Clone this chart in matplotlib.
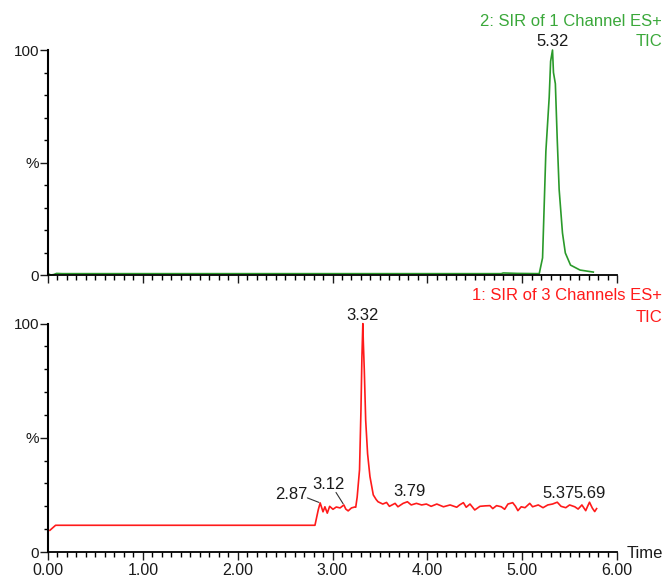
import matplotlib
matplotlib.use("Agg")
from matplotlib import pyplot as plt
from matplotlib.ticker import MultipleLocator, FixedLocator, FixedFormatter

plt.rcParams['font.family'] = ['Liberation Sans', 'DejaVu Sans']

# channel 2: SIR of 1 channel (green)
green_t = [0.00, 0.03, 0.06, 0.09, 0.15, 1.00, 2.00, 3.00, 4.00, 4.78, 4.80, 4.95,
           5.18, 5.215, 5.25, 5.285, 5.30, 5.32, 5.33, 5.35, 5.37, 5.39, 5.425,
           5.455, 5.51, 5.61, 5.75]
green_i = [0.6, 0.0, 0.2, 0.7, 0.6, 0.6, 0.6, 0.6, 0.6, 0.6, 0.9, 0.7,
           0.6, 7.6, 55, 79, 95, 100, 90, 85, 60, 38, 18.7,
           9.8, 4.4, 2.2, 1.3]

# channel 1: SIR of 3 channels (red)
red_t = [0.02, 0.08, 2.815, 2.85, 2.87, 2.90, 2.92, 2.945, 2.97, 3.005, 3.04, 3.08,
         3.12, 3.14, 3.165, 3.20, 3.235, 3.245, 3.26, 3.285, 3.30, 3.31, 3.32,
         3.325, 3.335, 3.35, 3.37, 3.395, 3.43, 3.46, 3.48, 3.53, 3.57, 3.60,
         3.66, 3.69, 3.745, 3.79, 3.83, 3.885, 3.94, 3.99, 4.04, 4.10, 4.17,
         4.24, 4.31, 4.34, 4.38, 4.41, 4.45, 4.50, 4.555, 4.61, 4.66, 4.69,
         4.73, 4.78, 4.815, 4.85, 4.90, 4.93, 4.955, 4.99, 5.03, 5.08, 5.11,
         5.17, 5.22, 5.27, 5.32, 5.37, 5.41, 5.46, 5.50, 5.555, 5.59, 5.63,
         5.67, 5.69, 5.71, 5.74, 5.765, 5.785]
red_i = [9.5, 11.7, 11.7, 18.5, 21.5, 17.6, 19.8, 17.0, 20.0, 18.7, 19.7, 19.3,
         20.6, 18.8, 18.0, 19.3, 19.7, 19.6, 24, 36, 62, 85, 100,
         92, 80, 57.6, 43, 33, 25, 23, 22, 21, 21.7, 20.0,
         21.3, 19.8, 21.3, 22.0, 20.6, 21.3, 20.6, 21.0, 20.0, 21.0, 19.8,
         20.6, 19.6, 20.6, 21.6, 19.6, 21.0, 18.4, 20.0, 20.2, 20.3, 19.0,
         20.3, 19.8, 18.7, 21.0, 21.6, 20.0, 18.1, 19.8, 19.4, 21.3, 19.8,
         20.6, 19.4, 20.6, 21.0, 21.8, 20.0, 19.4, 20.6, 19.8, 18.8, 20.6,
         18.1, 20.0, 21.8, 19.2, 17.7, 19.0]

green_peaks = [5.32]
red_peaks = [3.32]
# smaller labelled peaks: time, intensity, label offset (px), leader start on text box
red_minor = [(2.87, 21.5, -29, 8, (1.0, 0.3)), (3.12, 20.6, -15, 20, (0.72, 0.0)),
             (3.79, 22.0, 2, 10, None), (5.37, 21.8, 1, 9, None),
             (5.69, 21.8, 2, 9, None)]

GREEN = '#2a9a2a'
GREEN_TXT = '#3aa83a'
RED = '#ff1a1a'
TXT = '#1a1a1a'

fig = plt.figure(figsize=(6.67, 5.78), dpi=100)
ax1 = fig.add_axes([48 / 667, 1 - 275 / 578, 569 / 667, 225 / 578])
ax2 = fig.add_axes([48 / 667, 1 - 552 / 578, 569 / 667, 228.4 / 578])


def style(ax, labels):
    for s in ['top', 'right']:
        ax.spines[s].set_visible(False)
    ax.spines['left'].set_linewidth(1.5)
    ax.spines['bottom'].set_linewidth(1.3)
    ax.set_xlim(0, 6)
    ax.set_ylim(0, 100)
    ax.yaxis.set_major_locator(FixedLocator([0, 50, 100]))
    ax.yaxis.set_major_formatter(FixedFormatter(['0', '%', '100']))
    ax.yaxis.set_minor_locator(MultipleLocator(10))
    ax.xaxis.set_major_locator(MultipleLocator(1))
    ax.xaxis.set_minor_locator(MultipleLocator(0.1))
    ax.tick_params(axis='y', which='major', length=5.5, width=1, pad=1,
                   labelsize=11, colors=TXT)
    ax.tick_params(axis='y', which='minor', length=3, width=1)
    ax.tick_params(axis='x', which='major', length=6, width=1, pad=2,
                   labelsize=11.5, colors=TXT, labelbottom=labels)
    ax.tick_params(axis='x', which='minor', length=3.5, width=1)
    if labels:
        ax.xaxis.set_major_formatter(lambda v, p: f'{v:.2f}')


style(ax1, False)
style(ax2, True)

ax1.plot(green_t, green_i, color=GREEN, lw=1.2, clip_on=False)
ax2.plot(red_t, red_i, color=RED, lw=1.2, clip_on=False)

for ax, peaks in [(ax1, green_peaks), (ax2, red_peaks)]:
    for t in peaks:
        ax.annotate(f'{t:.2f}', (t, 100), xytext=(0, 8), textcoords='offset pixels',
                    ha='center', va='center', fontsize=12, color=TXT)
for t, v, dx, dy, rel in red_minor:
    arrow = None
    if rel is not None:
        arrow = dict(arrowstyle='-', color='#333333', lw=0.8, relpos=rel,
                     patchA=None, shrinkA=0, shrinkB=1)
    ax2.annotate(f'{t:.2f}', (t, v), xytext=(dx, dy), textcoords='offset pixels',
                 ha='center', va='center', fontsize=12, color=TXT, arrowprops=arrow)

fig.text(662 / 667, 1 - 22 / 578, '2: SIR of 1 Channel ES+', ha='right', va='center',
         fontsize=12, color=GREEN_TXT)
fig.text(662 / 667, 1 - 41 / 578, 'TIC', ha='right', va='center',
         fontsize=12, color=GREEN_TXT)
fig.text(662 / 667, 1 - 296 / 578, '1: SIR of 3 Channels ES+', ha='right', va='center',
         fontsize=12, color=RED)
fig.text(662 / 667, 1 - 318 / 578, 'TIC', ha='right', va='center',
         fontsize=12, color=RED)
fig.text(627 / 667, 1 - 553 / 578, 'Time', ha='left', va='center',
         fontsize=12, color=TXT)

fig.savefig('out.png', dpi=100)
